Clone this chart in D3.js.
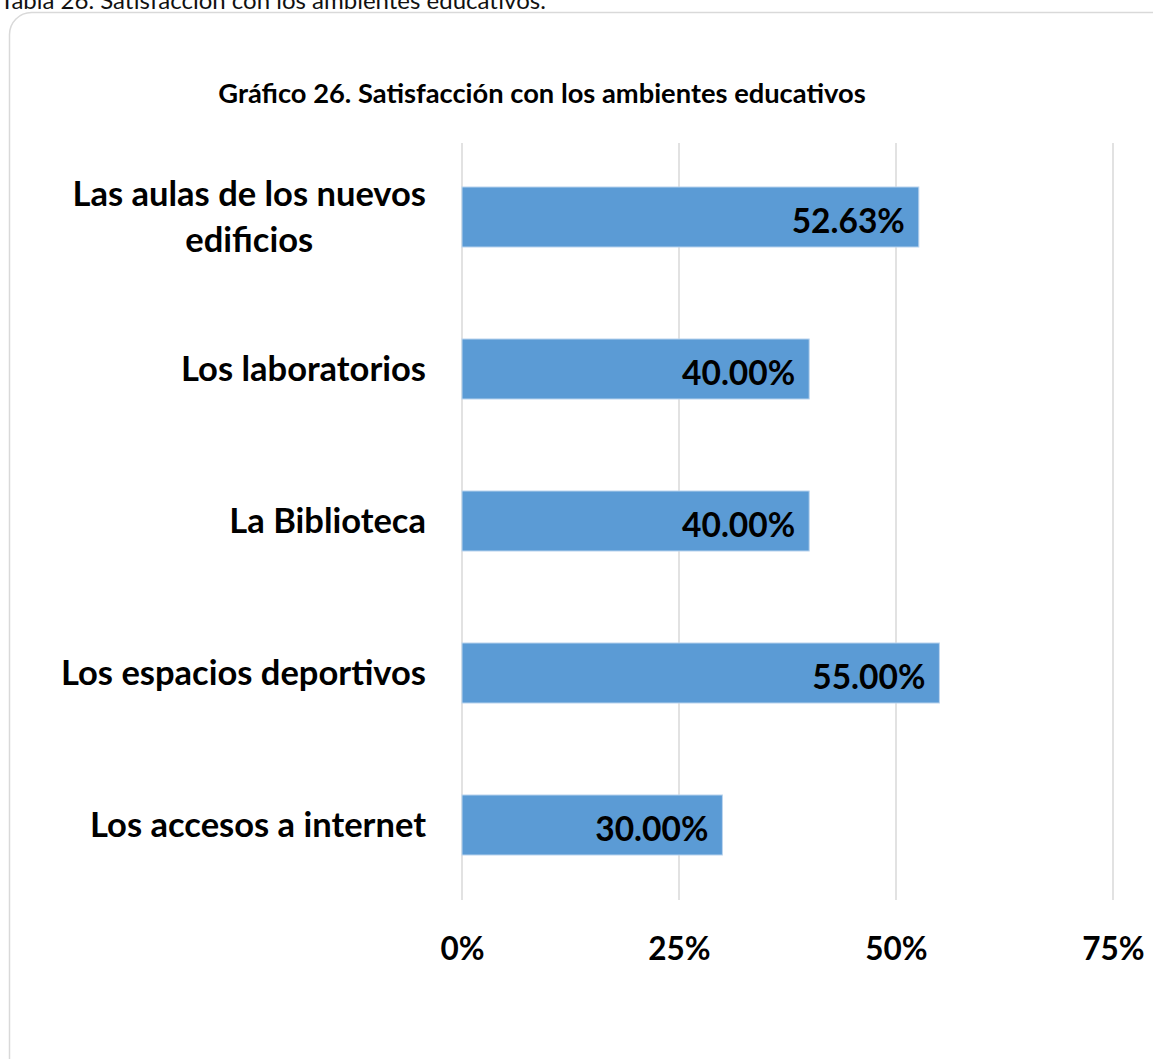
<!DOCTYPE html>
<html>
<head>
<meta charset="utf-8">
<script src="https://cdn.jsdelivr.net/npm/d3@7"></script>
<style>
  html, body { margin: 0; padding: 0; background: #fff; }
  svg { display: block; }
</style>
</head>
<body>
<div id="chart"></div>
<script>
// Satisfaction with learning spaces, share of respondents satisfied
const categories = [
  ["Las aulas de los nuevos", "edificios"],
  ["Los laboratorios"],
  ["La Biblioteca"],
  ["Los espacios deportivos"],
  ["Los accesos a internet"]
];
const values = [0.5263, 0.40, 0.40, 0.55, 0.30];
const tickValues = [0, 0.25, 0.50, 0.75];
const caption = "Tabla 26. Satisfacción con los ambientes educativos.";
const title = "Gráfico 26. Satisfacción con los ambientes educativos";

const W = 1153, H = 1059;
const FONT = "Lato, 'Open Sans', sans-serif";

const svg = d3.select("#chart").append("svg")
  .attr("width", W).attr("height", H);

// document caption above the chart frame
svg.append("text")
  .attr("x", 0).attr("y", 9)
  .attr("font-family", FONT).attr("font-size", 24)
  .attr("fill", "#111")
  .text(caption);

// rounded chart frame
svg.append("rect")
  .attr("x", 9.5).attr("y", 12.5)
  .attr("width", 1180).attr("height", 1070)
  .attr("rx", 22).attr("ry", 22)
  .attr("fill", "#fff")
  .attr("stroke", "#d9d9d9").attr("stroke-width", 1.5);

// chart title
svg.append("text")
  .attr("x", 542).attr("y", 103)
  .attr("text-anchor", "middle")
  .attr("font-family", FONT).attr("font-weight", 700).attr("font-size", 27.3)
  .attr("fill", "#000")
  .text(title);

const keys = categories.map((c, i) => i);
const x = d3.scaleLinear().domain([0, 0.75]).range([462, 1113]);
const y = d3.scaleBand().domain(keys).range([141, 901]).paddingInner(0.605).paddingOuter(0.3025);

// vertical gridlines
svg.append("g")
  .selectAll("line")
  .data(tickValues)
  .join("line")
  .attr("x1", d => x(d)).attr("x2", d => x(d))
  .attr("y1", 143).attr("y2", 900)
  .attr("stroke", "#d9d9d9").attr("stroke-width", 1.5);

// x axis tick labels
const xAxis = d3.axisBottom(x)
  .tickValues(tickValues)
  .tickFormat(d3.format(".0%"))
  .tickSize(0)
  .tickPadding(0);
const gx = svg.append("g").attr("transform", "translate(0,937)").call(xAxis);
gx.select(".domain").remove();
gx.selectAll("text")
  .attr("font-family", FONT).attr("font-weight", 700).attr("font-size", 31.5)
  .attr("fill", "#000")
  .attr("dy", "0.72em");

// bars
svg.append("g")
  .selectAll("rect")
  .data(values)
  .join("rect")
  .attr("x", x(0))
  .attr("y", (d, i) => y(i))
  .attr("width", d => x(d) - x(0))
  .attr("height", y.bandwidth())
  .attr("fill", "#5b9bd5")
  .attr("stroke", "#bcd5ee").attr("stroke-width", 1);

// value labels inside the bar ends
svg.append("g")
  .selectAll("text")
  .data(values)
  .join("text")
  .attr("x", d => x(d) - 14)
  .attr("y", (d, i) => y(i) + y.bandwidth() / 2 + 4)
  .attr("dy", "0.36em")
  .attr("text-anchor", "end")
  .attr("font-family", FONT).attr("font-weight", 700).attr("font-size", 33.5)
  .attr("fill", "#000")
  .text(d => d3.format(".2%")(d));

// category labels, wrapped lines centred on the widest line
const labelRight = 426;
const lineH = 46;
const cat = svg.append("g")
  .selectAll("g")
  .data(categories)
  .join("g");
cat.each(function (lines, i) {
  const g = d3.select(this);
  const cy = y(i) + y.bandwidth() / 2;
  const top = cy - (lines.length - 1) * lineH / 2;
  const texts = g.selectAll("text")
    .data(lines)
    .join("text")
    .attr("y", (d, j) => top + j * lineH)
    .attr("dy", "0.36em")
    .attr("font-family", FONT).attr("font-weight", 700).attr("font-size", 34.5)
    .attr("fill", "#000")
    .text(d => d);
  const widths = texts.nodes().map(n => n.getComputedTextLength());
  const maxW = d3.max(widths);
  texts.attr("text-anchor", "middle").attr("x", labelRight - maxW / 2);
});
</script>
</body>
</html>
